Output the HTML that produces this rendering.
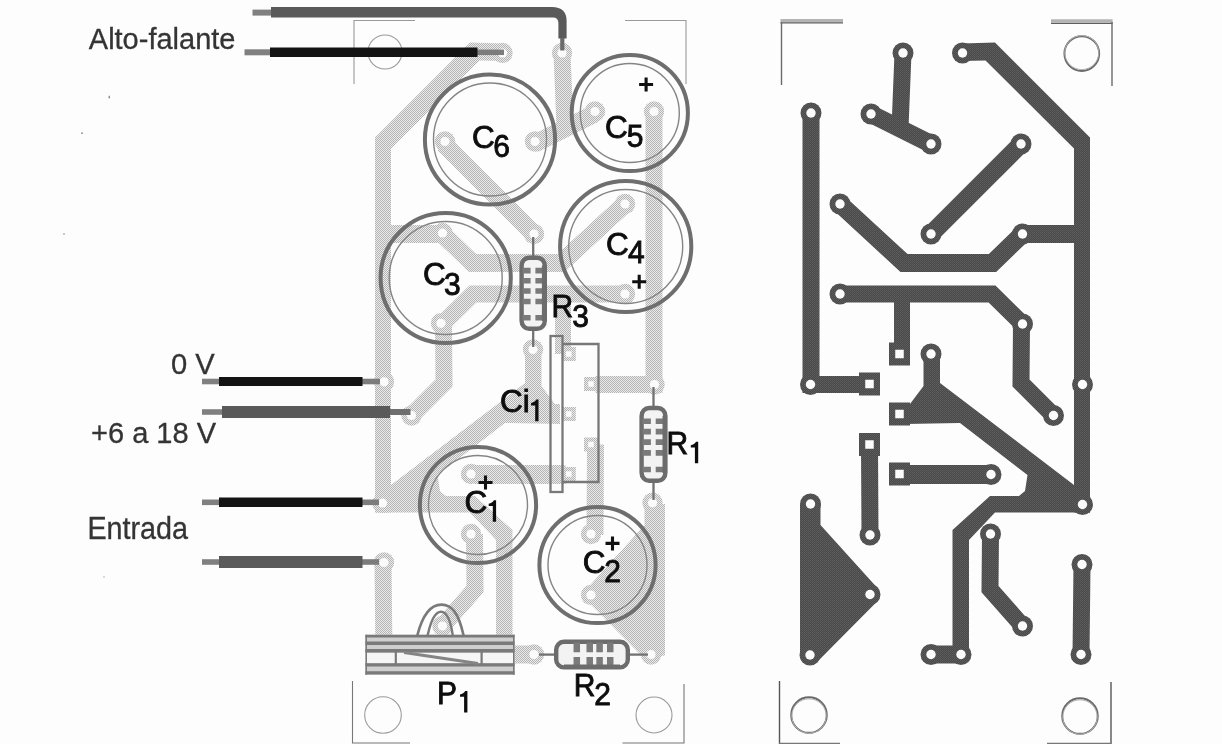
<!DOCTYPE html>
<html><head><meta charset="utf-8"><title>Placa</title>
<style>
html,body{margin:0;padding:0;background:#fdfdfd;}
body{width:1222px;height:744px;overflow:hidden;font-family:"Liberation Sans",sans-serif;}
svg{display:block;}
text{font-family:"Liberation Sans",sans-serif;}
</style></head><body>
<svg width="1222" height="744" viewBox="0 0 1222 744">
<defs>
<pattern id="htL" width="2" height="2" patternUnits="userSpaceOnUse">
<rect width="2" height="2" fill="#ebebeb"/><rect width="1" height="1" fill="#b4b4b4"/><rect x="1" y="1" width="1" height="1" fill="#b4b4b4"/>
</pattern>
<pattern id="htD" width="2" height="2" patternUnits="userSpaceOnUse">
<rect width="2" height="2" fill="#4a4a4a"/><rect width="1" height="1" fill="#5e5e5e"/><rect x="1" y="1" width="1" height="1" fill="#585858"/>
</pattern>
</defs>
<rect width="1222" height="744" fill="#fdfdfd"/>

<g id="leftcopper" transform="translate(1465,0) scale(-1,1)">
<g fill="url(#htL)" stroke="url(#htL)" stroke-linejoin="miter" stroke-linecap="butt">
<polyline fill="none" points="811,113 811,384.5 869.5,384.5" stroke-width="17" />
<polyline fill="none" points="903,53 900,128" stroke-width="17" />
<polyline fill="none" points="871,114 931,144" stroke-width="18" />
<polygon stroke="none" points="962,43.5 995,42.5 1090,137.5 1090,512.5 1074,512.5 1074,148.5 985.5,60.5 962,61"/>
<polyline fill="none" points="1021,144 931,234" stroke-width="18" />
<polyline fill="none" points="840,204 904,263 992.5,263 1022.5,234 1082,234" stroke-width="18" />
<polyline fill="none" points="840,294 992,294 1021.5,323 1021,383 1053.5,415.5" stroke-width="17" />
<polyline fill="none" points="902,294 902,354" stroke-width="16" />
<polygon stroke="none" points="923.5,354 940,354 940,383 1074,485 1090,485 1090,512.5 995,512.5 969,540 969,655 952.5,655 952.5,530 990,496 1019,496 1025,491 1027.5,475 960,423 905,424 905,404 910,404 923.5,386"/>
<polyline fill="none" points="961,654.5 931,654.5" stroke-width="18" />
<polyline fill="none" points="869.5,444.5 870,535" stroke-width="17" />
<polyline fill="none" points="899.5,474.5 991,474.5" stroke-width="19" />
<polygon stroke="none" points="800,504 820.5,504 820.5,525 878.1,588.7 877.1,601.5 817.1,662 800,655"/>
<polyline fill="none" points="990.5,534 990,589 1022.5,626" stroke-width="17" />
<polyline fill="none" points="1082,564.5 1081,654.5" stroke-width="17" />
<circle cx="811" cy="111.5" r="10.2" stroke="none"/>
<circle cx="810.5" cy="384.5" r="10.2" stroke="none"/>
<circle cx="903" cy="53" r="10.2" stroke="none"/>
<circle cx="870" cy="111.5" r="10.2" stroke="none"/>
<circle cx="930" cy="141.5" r="10.2" stroke="none"/>
<circle cx="962.5" cy="53" r="10.2" stroke="none"/>
<circle cx="1081" cy="381.8" r="10.2" stroke="none"/>
<circle cx="1082.5" cy="503" r="10.2" stroke="none"/>
<circle cx="1020" cy="141.5" r="10.2" stroke="none"/>
<circle cx="931" cy="234" r="10.2" stroke="none"/>
<circle cx="840" cy="204" r="10.2" stroke="none"/>
<circle cx="1022.5" cy="233" r="10.2" stroke="none"/>
<circle cx="840" cy="294" r="10.2" stroke="none"/>
<circle cx="1024" cy="323.3" r="10.2" stroke="none"/>
<circle cx="1053.5" cy="415.5" r="10.2" stroke="none"/>
<circle cx="932" cy="349.5" r="10.2" stroke="none"/>
<circle cx="961" cy="654.5" r="10.2" stroke="none"/>
<circle cx="931" cy="654.5" r="10.2" stroke="none"/>
<circle cx="874" cy="534" r="10.2" stroke="none"/>
<circle cx="994" cy="474" r="10.2" stroke="none"/>
<circle cx="812.5" cy="502.8" r="10.2" stroke="none"/>
<circle cx="874" cy="595" r="10.2" stroke="none"/>
<circle cx="814" cy="654.5" r="10.2" stroke="none"/>
<circle cx="994" cy="534" r="10.2" stroke="none"/>
<circle cx="1022.5" cy="626" r="10.2" stroke="none"/>
<circle cx="1081" cy="562.5" r="10.2" stroke="none"/>
<circle cx="1081" cy="654.5" r="10.2" stroke="none"/>
<rect x="867.0" y="377.0" width="14" height="14" stroke="none"/>
<rect x="889.2" y="347.0" width="14" height="14" stroke="none"/>
<rect x="889.2" y="407.0" width="14" height="14" stroke="none"/>
<rect x="867.0" y="437.5" width="14" height="14" stroke="none"/>
<rect x="889.2" y="467.0" width="14" height="14" stroke="none"/>
</g>
<g fill="#fbfbfb">
<circle cx="811" cy="111.5" r="4.6"/>
<circle cx="810.5" cy="384.5" r="4.6"/>
<circle cx="903" cy="53" r="4.6"/>
<circle cx="870" cy="111.5" r="4.6"/>
<circle cx="930" cy="141.5" r="4.6"/>
<circle cx="962.5" cy="53" r="4.6"/>
<circle cx="1081" cy="381.8" r="4.6"/>
<circle cx="1082.5" cy="503" r="4.6"/>
<circle cx="1020" cy="141.5" r="4.6"/>
<circle cx="931" cy="234" r="4.6"/>
<circle cx="840" cy="204" r="4.6"/>
<circle cx="1022.5" cy="233" r="4.6"/>
<circle cx="840" cy="294" r="4.6"/>
<circle cx="1024" cy="323.3" r="4.6"/>
<circle cx="1053.5" cy="415.5" r="4.6"/>
<circle cx="932" cy="349.5" r="4.6"/>
<circle cx="961" cy="654.5" r="4.6"/>
<circle cx="931" cy="654.5" r="4.6"/>
<circle cx="874" cy="534" r="4.6"/>
<circle cx="994" cy="474" r="4.6"/>
<circle cx="812.5" cy="502.8" r="4.6"/>
<circle cx="874" cy="595" r="4.6"/>
<circle cx="814" cy="654.5" r="4.6"/>
<circle cx="994" cy="534" r="4.6"/>
<circle cx="1022.5" cy="626" r="4.6"/>
<circle cx="1081" cy="562.5" r="4.6"/>
<circle cx="1081" cy="654.5" r="4.6"/>
<rect x="871.25" y="381.25" width="5.5" height="5.5"/>
<rect x="893.45" y="351.25" width="5.5" height="5.5"/>
<rect x="893.45" y="411.25" width="5.5" height="5.5"/>
<rect x="871.25" y="441.75" width="5.5" height="5.5"/>
<rect x="893.45" y="471.25" width="5.5" height="5.5"/>
</g>
</g>
<g id="rightcopper">
<g fill="url(#htD)" stroke="url(#htD)" stroke-linejoin="miter" stroke-linecap="butt">
<polyline fill="none" points="811,113 811,384.5 869.5,384.5" stroke-width="17" />
<polyline fill="none" points="903,53 900,128" stroke-width="17" />
<polyline fill="none" points="871,114 931,144" stroke-width="18" />
<polygon stroke="none" points="962,43.5 995,42.5 1090,137.5 1090,512.5 1074,512.5 1074,148.5 985.5,60.5 962,61"/>
<polyline fill="none" points="1021,144 931,234" stroke-width="18" />
<polyline fill="none" points="840,204 904,263 992.5,263 1022.5,234 1082,234" stroke-width="18" />
<polyline fill="none" points="840,294 992,294 1021.5,323 1021,383 1053.5,415.5" stroke-width="17" />
<polyline fill="none" points="902,294 902,354" stroke-width="16" />
<polygon stroke="none" points="923.5,354 940,354 940,383 1074,485 1090,485 1090,512.5 995,512.5 969,540 969,655 952.5,655 952.5,530 990,496 1019,496 1025,491 1027.5,475 960,423 905,424 905,404 910,404 923.5,386"/>
<polyline fill="none" points="961,654.5 931,654.5" stroke-width="18" />
<polyline fill="none" points="869.5,444.5 870,535" stroke-width="17" />
<polyline fill="none" points="899.5,474.5 991,474.5" stroke-width="19" />
<polygon stroke="none" points="800,504 820.5,504 820.5,525 878.1,588.7 877.1,601.5 817.1,662 800,655"/>
<polyline fill="none" points="990.5,534 990,589 1022.5,626" stroke-width="17" />
<polyline fill="none" points="1082,564.5 1081,654.5" stroke-width="17" />
<circle cx="811" cy="113" r="10.5" stroke="none"/>
<circle cx="810.5" cy="384.5" r="10.5" stroke="none"/>
<circle cx="903" cy="53" r="10.5" stroke="none"/>
<circle cx="871" cy="114" r="10.5" stroke="none"/>
<circle cx="931" cy="144" r="10.5" stroke="none"/>
<circle cx="962.5" cy="53" r="10.5" stroke="none"/>
<circle cx="1082.5" cy="384.5" r="10.5" stroke="none"/>
<circle cx="1082.5" cy="504.5" r="10.5" stroke="none"/>
<circle cx="1021" cy="144" r="10.5" stroke="none"/>
<circle cx="931" cy="234" r="10.5" stroke="none"/>
<circle cx="840" cy="204" r="10.5" stroke="none"/>
<circle cx="1022.5" cy="234" r="10.5" stroke="none"/>
<circle cx="840" cy="294" r="10.5" stroke="none"/>
<circle cx="1022.5" cy="324" r="10.5" stroke="none"/>
<circle cx="1053.5" cy="415.5" r="10.5" stroke="none"/>
<circle cx="931" cy="354" r="10.5" stroke="none"/>
<circle cx="961" cy="654.5" r="10.5" stroke="none"/>
<circle cx="931" cy="654.5" r="10.5" stroke="none"/>
<circle cx="870" cy="535" r="10.5" stroke="none"/>
<circle cx="991" cy="474.5" r="10.5" stroke="none"/>
<circle cx="810.5" cy="504" r="10.5" stroke="none"/>
<circle cx="870" cy="594.5" r="10.5" stroke="none"/>
<circle cx="810" cy="655" r="10.5" stroke="none"/>
<circle cx="990.5" cy="534" r="10.5" stroke="none"/>
<circle cx="1022.5" cy="626" r="10.5" stroke="none"/>
<circle cx="1082" cy="564.5" r="10.5" stroke="none"/>
<circle cx="1081" cy="654.5" r="10.5" stroke="none"/>
<rect x="859.0" y="372.5" width="21" height="23" stroke="none"/>
<rect x="889.0" y="342.5" width="21" height="23" stroke="none"/>
<rect x="889.0" y="402.5" width="21" height="23" stroke="none"/>
<rect x="859.0" y="433.0" width="21" height="23" stroke="none"/>
<rect x="889.0" y="462.5" width="21" height="23" stroke="none"/>
</g>
<g fill="#fbfbfb">
<circle cx="811" cy="113" r="4.7"/>
<circle cx="810.5" cy="384.5" r="4.7"/>
<circle cx="903" cy="53" r="4.7"/>
<circle cx="871" cy="114" r="4.7"/>
<circle cx="931" cy="144" r="4.7"/>
<circle cx="962.5" cy="53" r="4.7"/>
<circle cx="1082.5" cy="384.5" r="4.7"/>
<circle cx="1082.5" cy="504.5" r="4.7"/>
<circle cx="1021" cy="144" r="4.7"/>
<circle cx="931" cy="234" r="4.7"/>
<circle cx="840" cy="204" r="4.7"/>
<circle cx="1022.5" cy="234" r="4.7"/>
<circle cx="840" cy="294" r="4.7"/>
<circle cx="1022.5" cy="324" r="4.7"/>
<circle cx="1053.5" cy="415.5" r="4.7"/>
<circle cx="931" cy="354" r="4.7"/>
<circle cx="961" cy="654.5" r="4.7"/>
<circle cx="931" cy="654.5" r="4.7"/>
<circle cx="870" cy="535" r="4.7"/>
<circle cx="991" cy="474.5" r="4.7"/>
<circle cx="810.5" cy="504" r="4.7"/>
<circle cx="870" cy="594.5" r="4.7"/>
<circle cx="810" cy="655" r="4.7"/>
<circle cx="990.5" cy="534" r="4.7"/>
<circle cx="1022.5" cy="626" r="4.7"/>
<circle cx="1082" cy="564.5" r="4.7"/>
<circle cx="1081" cy="654.5" r="4.7"/>
<rect x="865.25" y="379.75" width="8.5" height="8.5"/>
<rect x="895.25" y="349.75" width="8.5" height="8.5"/>
<rect x="895.25" y="409.75" width="8.5" height="8.5"/>
<rect x="865.25" y="440.25" width="8.5" height="8.5"/>
<rect x="895.25" y="469.75" width="8.5" height="8.5"/>
</g>
</g>
<g id="rightmarks" fill="none" stroke-linecap="butt">
<path d="M780.5,20.6H843" stroke="#b4b4b4" stroke-width="3.4"/>
<path d="M780.5,22.8H843" stroke="#5e5e5e" stroke-width="1.3"/>
<path d="M781.5,22V85" stroke="#6a6a6a" stroke-width="1.4"/>
<path d="M1051,20.9H1112.6" stroke="#b4b4b4" stroke-width="3.4"/>
<path d="M1051,23.3H1112.6" stroke="#5e5e5e" stroke-width="1.3"/>
<path d="M1112,22V86" stroke="#6a6a6a" stroke-width="1.4"/>
<path d="M779.5,681V744" stroke="#555" stroke-width="1.4"/>
<path d="M779,743.5H840" stroke="#777" stroke-width="1.6"/>
<path d="M1111,682V744" stroke="#555" stroke-width="1.4"/>
<path d="M1047,743.5H1111" stroke="#777" stroke-width="1.6"/>
<circle cx="1081.8" cy="53.6" r="17.4" stroke="#6a6a6a" stroke-width="1.9"/>
<circle cx="1081.8" cy="52.6" r="17" stroke="#b0b0b0" stroke-width="1"/>
<circle cx="809" cy="715" r="17.8" stroke="#6a6a6a" stroke-width="1.9"/>
<circle cx="809" cy="716" r="17.2" stroke="#b0b0b0" stroke-width="1"/>
<circle cx="1080" cy="716" r="17.8" stroke="#6a6a6a" stroke-width="1.9"/>
<circle cx="1080" cy="717" r="17.2" stroke="#b0b0b0" stroke-width="1"/>
</g>
<g id="leftmarks" fill="none" stroke="#9a9a9a" stroke-width="1.1">
<path d="M354,84V20.5H415"/>
<path d="M625,20.5H686V84"/>
<path d="M352.5,681V743H410" stroke="#777"/>
<path d="M622.5,743H684V684" stroke="#777"/>
<circle cx="385" cy="52" r="17"/>
<circle cx="383" cy="715" r="18.3"/>
<circle cx="654" cy="715" r="18"/>
</g>
<g id="caps">
<circle cx="490" cy="139.5" r="65.1" fill="none" stroke="#6e6e6e" stroke-width="4"/><circle cx="490" cy="139.5" r="56.5" fill="none" stroke="#858585" stroke-width="1.4"/>
<circle cx="629.8" cy="113" r="58.1" fill="none" stroke="#6e6e6e" stroke-width="4"/><circle cx="629.8" cy="113" r="49.5" fill="none" stroke="#858585" stroke-width="1.4"/>
<circle cx="625.7" cy="246.5" r="65.6" fill="none" stroke="#6e6e6e" stroke-width="4"/><circle cx="625.7" cy="246.5" r="57.0" fill="none" stroke="#858585" stroke-width="1.4"/>
<circle cx="445.7" cy="278" r="65.1" fill="none" stroke="#6e6e6e" stroke-width="4"/><circle cx="445.7" cy="278" r="56.5" fill="none" stroke="#858585" stroke-width="1.4"/>
<circle cx="478" cy="505" r="58.1" fill="none" stroke="#6e6e6e" stroke-width="4"/><circle cx="478" cy="505" r="49.5" fill="none" stroke="#858585" stroke-width="1.4"/>
<circle cx="597.5" cy="565" r="58.1" fill="none" stroke="#6e6e6e" stroke-width="4"/><circle cx="597.5" cy="565" r="49.5" fill="none" stroke="#858585" stroke-width="1.4"/>
</g>
<g id="res">
<path d="M533.2,237V257.5" stroke="#727272" stroke-width="2.3" fill="none"/><path d="M533.2,329V347" stroke="#727272" stroke-width="2.3" fill="none"/><rect x="521.6000000000001" y="257.7" width="23.200000000000003" height="71.1" rx="7.5" ry="8" fill="#f3f3f3" stroke="#6c6c6c" stroke-width="4.4"/><path d="M522.4000000000001,270.6H530.6M535.4000000000001,270.6H544.0" stroke="#7a7a7a" stroke-width="5.6" fill="none"/><path d="M522.4000000000001,280.7925H530.6M535.4000000000001,280.7925H544.0" stroke="#7a7a7a" stroke-width="5.6" fill="none"/><path d="M522.4000000000001,290.985H530.6M535.4000000000001,290.985H544.0" stroke="#7a7a7a" stroke-width="5.6" fill="none"/><path d="M522.4000000000001,301.555H530.6M535.4000000000001,301.555H544.0" stroke="#7a7a7a" stroke-width="5.6" fill="none"/><path d="M522.4000000000001,317.7875H530.6M535.4000000000001,317.7875H544.0" stroke="#7a7a7a" stroke-width="5.6" fill="none"/><path d="M543.4,265.5V321" stroke="#6c6c6c" stroke-width="3" fill="none"/>
<path d="M653.5,387V407.8" stroke="#727272" stroke-width="2.3" fill="none"/><path d="M653.5,481V500" stroke="#727272" stroke-width="2.3" fill="none"/><rect x="641.6" y="408.0" width="23.799999999999997" height="72.79999999999998" rx="7.5" ry="8" fill="#f3f3f3" stroke="#6c6c6c" stroke-width="4.4"/><path d="M642.4,421.24H650.9M655.7,421.24H664.6" stroke="#7a7a7a" stroke-width="5.6" fill="none"/><path d="M642.4,431.66200000000003H650.9M655.7,431.66200000000003H664.6" stroke="#7a7a7a" stroke-width="5.6" fill="none"/><path d="M642.4,442.084H650.9M655.7,442.084H664.6" stroke="#7a7a7a" stroke-width="5.6" fill="none"/><path d="M642.4,452.892H650.9M655.7,452.892H664.6" stroke="#7a7a7a" stroke-width="5.6" fill="none"/><path d="M642.4,469.49H650.9M655.7,469.49H664.6" stroke="#7a7a7a" stroke-width="5.6" fill="none"/><path d="M664.0,415.8V473" stroke="#6c6c6c" stroke-width="3" fill="none"/>
<path d="M539,654.6H556" stroke="#727272" stroke-width="2.3" fill="none"/><path d="M628,654.6H648" stroke="#727272" stroke-width="2.3" fill="none"/><rect x="556.2" y="641.8000000000001" width="71.6" height="25.6" rx="7.5" ry="8" fill="#f3f3f3" stroke="#6c6c6c" stroke-width="4.4"/><path d="M576.8,642.6V652.2M576.8,657.0V666.6" stroke="#7a7a7a" stroke-width="6.5" fill="none"/><path d="M589.72,642.6V652.2M589.72,657.0V666.6" stroke="#7a7a7a" stroke-width="6.5" fill="none"/><path d="M599.6,642.6V652.2M599.6,657.0V666.6" stroke="#7a7a7a" stroke-width="6.5" fill="none"/><path d="M610.24,642.6V652.2M610.24,657.0V666.6" stroke="#7a7a7a" stroke-width="6.5" fill="none"/><path d="M564,666.0H620" stroke="#6c6c6c" stroke-width="3" fill="none"/>
</g>
<g id="ci1" fill="none" stroke="#787878" stroke-width="2.3">
<rect x="550.5" y="336" width="12" height="156"/>
<path d="M562.5,344H598.5V482H562.5"/>
</g>
<g id="p1" fill="none" stroke="#7a7a7a">
<rect x="365.5" y="634.8" width="149" height="39.9" fill="#f6f6f6" stroke="none"/>
<rect x="365.5" y="634.8" width="149" height="18.2" fill="#cfcfcf" stroke="none"/>
<rect x="365.5" y="663.2" width="149" height="11.5" fill="#cfcfcf" stroke="none"/>
<path d="M365.5,636.1H514.5" stroke-width="2.6"/>
<path d="M365.5,643.2H514.5M365.5,650.8H514.5" stroke-width="3.4"/>
<path d="M365.5,664.8H514.5M365.5,672.9H514.5" stroke-width="3.2"/>
<path d="M366.2,634.8V674.7M513.8,634.8V674.7" stroke-width="1.6"/>
<path d="M404,652.5L478,663.4" stroke="#858585" stroke-width="3"/>
<path d="M395.8,652V664M481.6,652V664" stroke-width="2.2"/>
<path d="M417.3,635.5C423,613 431,604.6 441.5,604.6C452,604.6 458.5,613 463.6,635.5" stroke-width="2.6"/>
<path d="M427.6,635.5C431,620 435,611.8 441,611.8C447,611.8 450.5,620 452.8,635.5" stroke-width="2.4"/>
</g>
<g id="wires" fill="none" stroke-linecap="butt">
<!-- top speaker wire -->
<path d="M252.5,12.6H272" stroke="#808080" stroke-width="6"/>
<path d="M271,7H552Q566.6,7 566.6,21V38.6H558.4V23Q558.4,17.4 553,17.4H271Z" fill="#5a5a5a" stroke="none"/>
<path d="M562.3,38V50.5" stroke="#6a6a6a" stroke-width="4.2"/>
<!-- black speaker wire -->
<path d="M244.5,52.3H271" stroke="#808080" stroke-width="6"/>
<path d="M477,52.3H504" stroke="#7c7c7c" stroke-width="5.5"/>
<path d="M270,52.3H477.5" stroke="#141414" stroke-width="9.6"/>
<!-- 0 V -->
<path d="M202,381.5H220" stroke="#808080" stroke-width="5.6"/>
<path d="M362,381.5H380" stroke="#7c7c7c" stroke-width="5.6"/>
<path d="M219,381.5H362.5" stroke="#141414" stroke-width="9.2"/>
<!-- +6 a 18 V -->
<path d="M202,412H223" stroke="#808080" stroke-width="5.6"/>
<path d="M389,412H410.5" stroke="#6e6e6e" stroke-width="6"/>
<path d="M222,412H390" stroke="#5a5a5a" stroke-width="12"/>
<!-- Entrada 1 -->
<path d="M202,502.3H220" stroke="#808080" stroke-width="5.6"/>
<path d="M362,502.3H379" stroke="#7c7c7c" stroke-width="5.6"/>
<path d="M219,502.3H362.5" stroke="#141414" stroke-width="9.6"/>
<!-- Entrada 2 -->
<path d="M202,562H220" stroke="#808080" stroke-width="5.6"/>
<path d="M362,562H379" stroke="#7c7c7c" stroke-width="5.6"/>
<path d="M219,562H362.5" stroke="#5a5a5a" stroke-width="12"/>
</g>
<g id="labels" fill="#0c0c0c" stroke="#0c0c0c" stroke-width="0.85" opacity="0.995">
<text transform="translate(471.9,147.6) scale(1.05,1.07)" font-size="30">C</text><text transform="translate(493.3,156.6) scale(1.0,1.07)" font-size="30">6</text>
<text transform="translate(605.1,137.8) scale(1.05,1.07)" font-size="30">C</text><text transform="translate(626.8,146.5) scale(1.0,1.07)" font-size="30">5</text>
<text transform="translate(606.0,254.8) scale(1.05,1.07)" font-size="30">C</text><text transform="translate(628.0,263.4) scale(1.0,1.07)" font-size="30">4</text>
<text transform="translate(423.0,285.3) scale(1.05,1.07)" font-size="30">C</text><text transform="translate(443.9,294.5) scale(1.0,1.07)" font-size="30">3</text>
<text transform="translate(551.5,316.8) scale(1.0,1.07)" font-size="30">R</text><text transform="translate(572.2,326.7) scale(1.0,1.07)" font-size="30">3</text>
<text transform="translate(500.0,412.0) scale(1.05,1.07)" font-size="30">Ci</text><path stroke="none" d="M538.5,399.6V421.2H535.2V405.5H531.1V403.1C533.3,402.8 535.4,401.5 536.3,399.6Z"/>
<text transform="translate(666.6,454.0) scale(1.0,1.07)" font-size="30">R</text><path stroke="none" d="M698.2,441.7V463.3H694.9V447.6H690.8V445.2C693.0,444.9 695.1,443.6 696.0,441.7Z"/>
<text transform="translate(464.4,513.3) scale(1.05,1.07)" font-size="30">C</text><path stroke="none" d="M496.1,500.2V521.8H492.8V506.1H488.7V503.7C490.9,503.4 493.0,502.1 493.9,500.2Z"/>
<text transform="translate(582.8,573.0) scale(1.05,1.07)" font-size="30">C</text><text transform="translate(604.2,581.7) scale(1.0,1.07)" font-size="30">2</text>
<text transform="translate(437.0,703.5) scale(1.0,1.07)" font-size="30">P</text><path stroke="none" d="M467.4,690.9V712.5H464.1V696.8H460.0V694.4C462.2,694.1 464.3,692.8 465.2,690.9Z"/>
<text transform="translate(573.7,695.8) scale(1.0,1.07)" font-size="30">R</text><text transform="translate(594.2,705.0) scale(1.0,1.07)" font-size="30">2</text>
</g>
<g id="plus" stroke="#111" stroke-width="3.1" fill="none">
<path d="M639.1,84.5H653.1M646.1,77.5V91.5"/>
<path d="M632.2,281.7H646.2M639.2,274.7V288.7"/>
<path d="M478.5,482.5H492.5M485.5,475.5V489.5"/>
<path d="M605.5,543.4H619.5M612.5,536.4V550.4"/>
</g>
<g id="sidelabels" fill="#333" stroke="#333" stroke-width="0.3" opacity="0.995">
<text transform="translate(88.8,48.8) scale(1.0,1.03)" font-size="29.0">Alto-falante</text>
<text transform="translate(171,374) scale(1.0,1.02)" font-size="29.2">0 V</text>
<text transform="translate(91,443) scale(1.0,1.03)" font-size="29.05">+6 a 18 V</text>
<text transform="translate(87.4,539) scale(1.0,1.07)" font-size="28.75">Entrada</text>
</g>
<g id="specks" fill="#8a8a8a"><ellipse cx="109.3" cy="97" rx="0.8" ry="1.5"/><circle cx="82" cy="133.2" r="0.9"/><circle cx="64" cy="234" r="0.8"/><circle cx="104" cy="577" r="0.8" fill="#aaa"/></g>
</svg></body></html>
